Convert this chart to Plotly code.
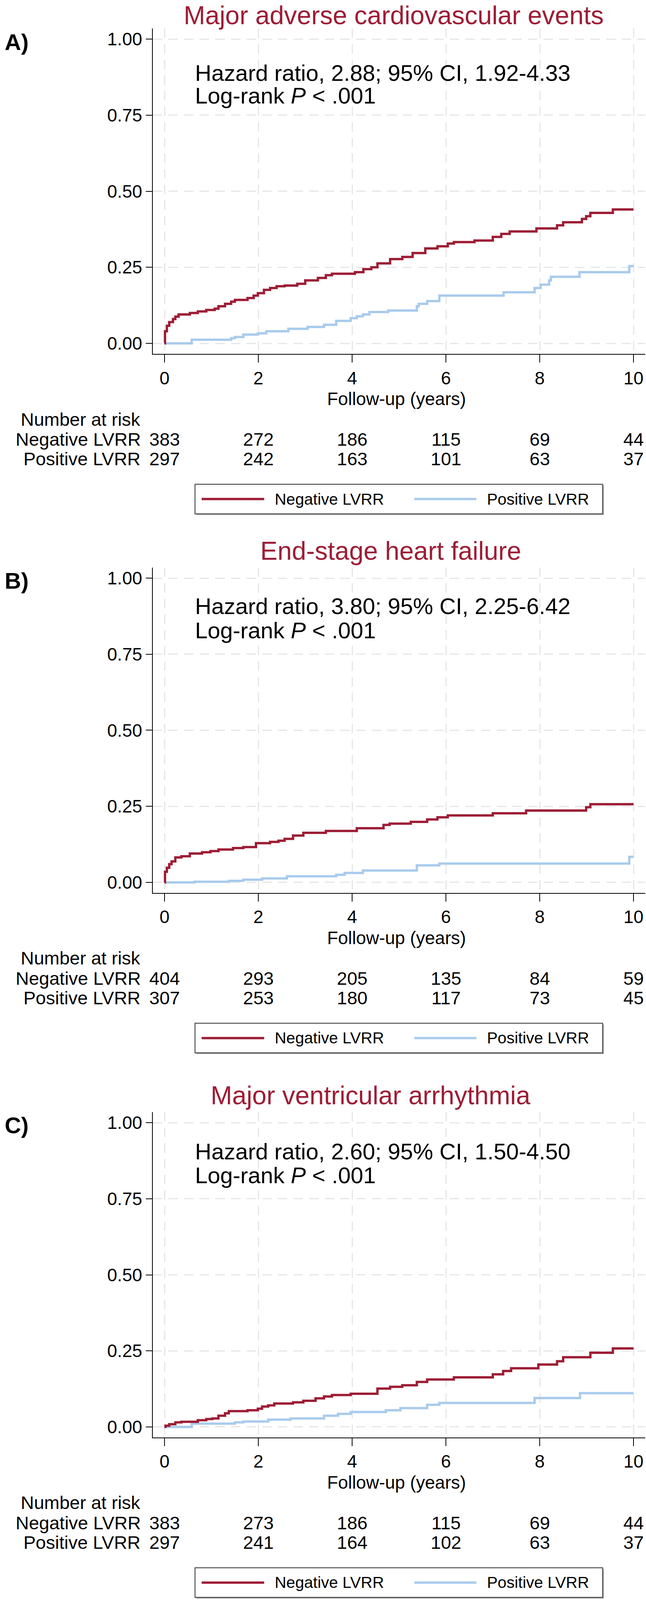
import plotly.graph_objects as go

W, H = 1653, 4325
FONT = "Liberation Sans, Arial, Helvetica, sans-serif"
RED = "#9D1D35"
BLUE = "#A9CBEC"

# ---------------- data ----------------
titles = ["Major adverse cardiovascular events", "End-stage heart failure", "Major ventricular arrhythmia"]
panel_letters = ["A)", "B)", "C)"]
hr_texts = ["Hazard ratio, 2.88; 95% CI, 1.92-4.33",
            "Hazard ratio, 3.80; 95% CI, 2.25-6.42",
            "Hazard ratio, 2.60; 95% CI, 1.50-4.50"]
p_text = "Log-rank <i>P</i> &lt; .001"
group_names = ["Negative LVRR", "Positive LVRR"]
risk_times = [0, 2, 4, 6, 8, 10]
y_ticks = [0, 0.25, 0.5, 0.75, 1.0]

# Panel A: MACE
a_neg_t = [0, 0.01, 0.05, 0.1, 0.18, 0.23, 0.3, 0.54, 0.71, 0.89, 1.07, 1.15, 1.29, 1.42, 1.5, 1.77, 1.9, 1.99,
           2.12, 2.25, 2.39, 2.56, 2.83, 3.0, 3.27, 3.44, 3.57, 4.06, 4.24, 4.41, 4.54, 4.81, 5.07, 5.29, 5.56,
           5.82, 6.04, 6.17, 6.61, 7.0, 7.18, 7.36, 7.93, 8.37, 8.5, 8.9, 8.99, 9.08, 9.56, 10.0]
a_neg_v = [0, 0.04, 0.058, 0.07, 0.08, 0.088, 0.095, 0.10, 0.105, 0.11, 0.114, 0.122, 0.13, 0.137, 0.143, 0.149,
           0.157, 0.165, 0.176, 0.182, 0.188, 0.19, 0.196, 0.207, 0.215, 0.224, 0.229, 0.234, 0.244, 0.25, 0.263,
           0.277, 0.284, 0.297, 0.312, 0.319, 0.328, 0.333, 0.338, 0.35, 0.36, 0.368, 0.378, 0.388, 0.398, 0.409,
           0.418, 0.429, 0.44, 0.44]
a_pos_t = [0, 0.58, 1.42, 1.5, 1.68, 1.99, 2.17, 2.64, 3.05, 3.4, 3.66, 3.97, 4.1, 4.23, 4.37, 4.77, 5.38, 5.42,
           5.6, 5.86, 7.23, 7.89, 8.02, 8.2, 8.24, 8.85, 9.91, 10.0]
a_pos_v = [0, 0.012, 0.017, 0.021, 0.029, 0.033, 0.04, 0.048, 0.054, 0.061, 0.074, 0.083, 0.089, 0.095, 0.103,
           0.108, 0.122, 0.13, 0.139, 0.157, 0.168, 0.182, 0.193, 0.207, 0.219, 0.234, 0.254, 0.254]
a_risk_neg = [383, 272, 186, 115, 69, 44]
a_risk_pos = [297, 242, 163, 101, 63, 37]

# Panel B: end-stage heart failure
b_neg_t = [0, 0.01, 0.05, 0.1, 0.15, 0.23, 0.36, 0.54, 0.8, 0.98, 1.15, 1.46, 1.68, 1.95, 2.25, 2.43, 2.56, 2.74,
           2.96, 3.44, 4.1, 4.67, 4.8, 5.25, 5.6, 5.82, 6.04, 7.0, 7.71, 8.99, 9.08, 10.0]
b_neg_v = [0, 0.035, 0.048, 0.06, 0.069, 0.082, 0.086, 0.095, 0.099, 0.103, 0.108, 0.113, 0.116, 0.129, 0.133,
           0.137, 0.143, 0.154, 0.163, 0.169, 0.178, 0.189, 0.193, 0.199, 0.207, 0.214, 0.22, 0.227, 0.236, 0.247,
           0.257, 0.257]
b_pos_t = [0, 0.64, 1.38, 1.68, 2.08, 2.61, 3.66, 3.84, 4.23, 5.38, 5.86, 9.91, 10.0]
b_pos_v = [0, 0.002, 0.005, 0.009, 0.013, 0.02, 0.025, 0.031, 0.039, 0.056, 0.062, 0.084, 0.084]
b_risk_neg = [404, 293, 205, 135, 84, 59]
b_risk_pos = [307, 253, 180, 117, 73, 45]

# Panel C: major ventricular arrhythmia
c_neg_t = [0, 0.02, 0.1, 0.23, 0.36, 0.71, 0.89, 1.02, 1.15, 1.29, 1.37, 1.77, 1.99, 2.08, 2.21, 2.34, 2.74, 2.96,
           3.22, 3.4, 3.57, 3.97, 4.54, 4.81, 5.07, 5.38, 5.6, 6.17, 7.0, 7.22, 7.39, 7.97, 8.37, 8.5, 9.08, 9.56,
           10.0]
c_neg_v = [0, 0.004, 0.009, 0.015, 0.017, 0.022, 0.026, 0.028, 0.037, 0.045, 0.052, 0.055, 0.06, 0.067, 0.071,
           0.077, 0.081, 0.086, 0.094, 0.1, 0.105, 0.109, 0.126, 0.132, 0.137, 0.148, 0.156, 0.163, 0.173, 0.184,
           0.193, 0.205, 0.216, 0.229, 0.244, 0.258, 0.258]
c_pos_t = [0, 0.58, 1.5, 1.68, 2.21, 2.69, 3.4, 3.7, 3.97, 4.72, 5.03, 5.6, 5.86, 7.89, 8.86, 10.0]
c_pos_v = [0, 0.011, 0.015, 0.018, 0.024, 0.028, 0.037, 0.043, 0.049, 0.055, 0.062, 0.073, 0.079, 0.095, 0.111,
           0.111]
c_risk_neg = [383, 273, 186, 115, 69, 44]
c_risk_pos = [297, 241, 164, 102, 63, 37]

panels = [
    dict(neg_t=a_neg_t, neg_v=a_neg_v, pos_t=a_pos_t, pos_v=a_pos_v, rn=a_risk_neg, rp=a_risk_pos),
    dict(neg_t=b_neg_t, neg_v=b_neg_v, pos_t=b_pos_t, pos_v=b_pos_v, rn=b_risk_neg, rp=b_risk_pos),
    dict(neg_t=c_neg_t, neg_v=c_neg_v, pos_t=c_pos_t, pos_v=c_pos_v, rn=c_risk_neg, rp=c_risk_pos),
]

# ---------------- layout helpers (pixel positions) ----------------
base_px = [928, 2385, 3857]          # pixel row of y = 0 in each panel
title_cx = [1007, 1000, 948]
hr_line1_px = [197, 1638, 3112]
hr_line2_px = [258, 1704, 3177]


def py(p):
    return 1 - p / H


def px(p):
    return p / W


fig = go.Figure()
annotations = []
shapes = []

for i, pnl in enumerate(panels):
    n = "" if i == 0 else str(i + 1)
    xa, ya = "x" + n, "y" + n
    base = base_px[i]

    fig.add_trace(go.Scatter(x=pnl["pos_t"], y=pnl["pos_v"], mode="lines", name=group_names[1],
                             line=dict(shape="hv", color=BLUE, width=6), xaxis=xa, yaxis=ya,
                             showlegend=False, hoverinfo="skip"))
    fig.add_trace(go.Scatter(x=pnl["neg_t"], y=pnl["neg_v"], mode="lines", name=group_names[0],
                             line=dict(shape="hv", color=RED, width=6), xaxis=xa, yaxis=ya,
                             showlegend=False, hoverinfo="skip"))

    axcommon = dict(showline=True, linecolor="black", linewidth=2, ticks="outside", tickcolor="black",
                    tickwidth=2, showgrid=True, gridcolor="#E6E6E6", gridwidth=3, griddash="24px,16px",
                    zeroline=False, automargin=False,
                    tickfont=dict(family=FONT, size=46, color="black"))
    fig.layout["xaxis" + n] = dict(axcommon, domain=[px(391), px(1651)], range=[-0.25, 10.25],
                                   tickvals=risk_times, ticklen=20, anchor=ya)
    fig.layout["yaxis" + n] = dict(axcommon, domain=[py(base + 29), py(base - 851)], range=[-0.035, 1.035],
                                   tickvals=y_ticks, tickformat=".2f", ticklen=16, anchor=xa)

    # title
    if i == 0:
        annotations.append(dict(text=titles[i], xref="paper", yref="paper", x=px(title_cx[i]), y=1.0,
                                xanchor="center", yanchor="top", showarrow=False,
                                font=dict(family=FONT, size=66, color=RED)))
    else:
        annotations.append(dict(text=titles[i], xref="paper", yref="paper", x=px(title_cx[i]),
                                y=py(base - 896), xanchor="center", yanchor="middle", showarrow=False,
                                font=dict(family=FONT, size=66, color=RED)))
    # panel letter
    annotations.append(dict(text="<b>%s</b>" % panel_letters[i], xref="paper", yref="paper", x=px(10),
                            y=py(base - 815), xanchor="left", yanchor="middle", showarrow=False,
                            font=dict(family=FONT, size=58, color="black")))
    # hazard ratio text
    annotations.append(dict(text=hr_texts[i], xref=xa, yref="paper", x=0.63, y=py(hr_line1_px[i]),
                            xanchor="left", yanchor="middle", showarrow=False,
                            font=dict(family=FONT, size=58, color="black")))
    annotations.append(dict(text=p_text, xref=xa, yref="paper", x=0.63, y=py(hr_line2_px[i]),
                            xanchor="left", yanchor="middle", showarrow=False,
                            font=dict(family=FONT, size=58, color="black")))
    # x-axis title
    annotations.append(dict(text="Follow-up (years)", xref="paper", yref="paper", x=px(1014), y=py(base + 150),
                            xanchor="center", yanchor="middle", showarrow=False,
                            font=dict(family=FONT, size=46, color="black")))
    # number at risk
    annotations.append(dict(text="Number at risk", xref="paper", yref="paper", x=px(51), y=py(base + 205),
                            xanchor="left", yanchor="middle", showarrow=False,
                            font=dict(family=FONT, size=47, color="black")))
    for r, (lab, vals) in enumerate([(group_names[0], pnl["rn"]), (group_names[1], pnl["rp"])]):
        yy = py(base + 259 + 53 * r)
        annotations.append(dict(text=lab, xref="paper", yref="paper", x=px(362), y=yy, xanchor="right",
                                yanchor="middle", showarrow=False, font=dict(family=FONT, size=47, color="black")))
        for t, v in zip(risk_times, vals):
            annotations.append(dict(text=str(v), xref=xa, yref="paper", x=t, y=yy, xanchor="center",
                                    yanchor="middle", showarrow=False,
                                    font=dict(family=FONT, size=47, color="black")))

    # legend box (with shadow)
    top, bot = base + 381, base + 461
    shapes.append(dict(type="rect", xref="paper", yref="paper", x0=px(502), x1=px(1545), y0=py(bot + 3),
                       y1=py(top + 3), line=dict(width=0), fillcolor="#A0A0A0", layer="above"))
    shapes.append(dict(type="rect", xref="paper", yref="paper", x0=px(499), x1=px(1542), y0=py(bot),
                       y1=py(top), line=dict(color="#505050", width=2.5), fillcolor="white", layer="above"))
    ymid = py((top + bot) / 2)
    shapes.append(dict(type="line", xref="paper", yref="paper", x0=px(516), x1=px(676), y0=ymid, y1=ymid,
                       line=dict(color=RED, width=6), layer="above"))
    shapes.append(dict(type="line", xref="paper", yref="paper", x0=px(1060), x1=px(1219), y0=ymid, y1=ymid,
                       line=dict(color=BLUE, width=6), layer="above"))
    annotations.append(dict(text=group_names[0], xref="paper", yref="paper", x=px(701), y=ymid, xanchor="left",
                            yanchor="middle", showarrow=False, font=dict(family=FONT, size=41, color="black")))
    annotations.append(dict(text=group_names[1], xref="paper", yref="paper", x=px(1244), y=ymid, xanchor="left",
                            yanchor="middle", showarrow=False, font=dict(family=FONT, size=41, color="black")))

fig.update_layout(width=W, height=H, margin=dict(l=0, r=0, t=0, b=0), autosize=False,
                  paper_bgcolor="white", plot_bgcolor="white", template="none",
                  annotations=annotations, shapes=shapes, showlegend=False,
                  font=dict(family=FONT, color="black"))

post = (
    "document.body.style.margin='0px';document.body.style.padding='0px';"
    "document.documentElement.style.overflow='hidden';"
    "var gd=document.getElementById('{plot_id}');"
    "var vh=window.innerHeight, vw=window.innerWidth;"
    "if (vh && vw && (vh < %d || vw < %d)) {"
    "  Plotly.relayout(gd, {height: Math.min(vh, %d), width: Math.min(vw, %d)});"
    "}" % (H, W, H, W)
)

fig.write_html("out.html", config={"displayModeBar": False}, post_script=post)
